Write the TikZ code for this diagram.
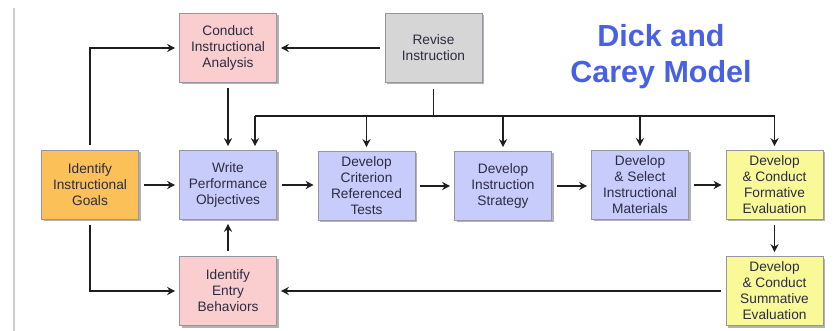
\documentclass[tikz,border=0pt]{standalone}
\usepackage{fontspec}
\setmainfont{Liberation Sans}
\usetikzlibrary{arrows.meta,shadows}

\definecolor{pinkfill}{RGB}{250,206,206}
\definecolor{greyfill}{RGB}{214,214,214}
\definecolor{orangefill}{RGB}{251,192,88}
\definecolor{bluefill}{RGB}{200,204,250}
\definecolor{yellowfill}{RGB}{250,249,152}
\definecolor{boxline}{RGB}{150,150,160}
\definecolor{boxtext}{RGB}{44,44,66}
\definecolor{linecol}{RGB}{30,30,30}
\definecolor{titleblue}{RGB}{72,96,226}
\definecolor{edgegrey}{RGB}{205,205,205}

\tikzset{
  box/.style={draw=boxline, line width=0.6pt, minimum width=97pt, minimum height=69pt,
    inner sep=2pt, align=center, text=boxtext,
    font=\fontsize{13.7}{16}\selectfont,
    drop shadow={shadow xshift=2pt, shadow yshift=-2pt, fill=black, opacity=0.3}},
  arr/.style={line width=1.4pt, draw=linecol,
    -{Stealth[length=8pt,width=8pt,inset=2.5pt]}, shorten >=4pt, shorten <=5pt},
  bus/.style={line width=1.4pt, draw=linecol},
}

\begin{document}
\begin{tikzpicture}[x=1pt,y=-1pt]
  \useasboundingbox (0,0) rectangle (835,331);

  % page edge on the left
  \draw[edgegrey, line width=1.6pt] (14,8) -- (14,331);

  % title
  \node[font=\bfseries\fontsize{30.5}{36}\selectfont, text=titleblue, align=center]
    (title) at (661,57) {Dick and\\Carey Model};

  % steps
  \node[box, fill=pinkfill]   (ana)  at (228,48)    {Conduct\\Instructional\\Analysis};
  \node[box, fill=greyfill]   (rev)  at (433.5,48)  {Revise\\Instruction};
  \node[box, fill=orangefill] (goal) at (90,185)    {Identify\\Instructional\\Goals};
  \node[box, fill=bluefill]   (wpo)  at (228,185)   {Write\\Performance\\Objectives};
  \node[box, fill=bluefill]   (crt)  at (366.5,186) {Develop\\Criterion\\Referenced\\Tests};
  \node[box, fill=bluefill]   (str)  at (503,186)   {Develop\\Instruction\\Strategy};
  \node[box, fill=bluefill]   (mat)  at (640,185)   {Develop\\\& Select\\Instructional\\Materials};
  \node[box, fill=yellowfill] (form) at (774.5,185) {Develop\\\& Conduct\\Formative\\Evaluation};
  \node[box, fill=pinkfill]   (ent)  at (228,291)   {Identify\\Entry\\Behaviors};
  \node[box, fill=yellowfill] (summ) at (774.5,291) {Develop\\\& Conduct\\Summative\\Evaluation};

  % main flow
  \draw[arr] (goal) -- (wpo);
  \draw[arr] (wpo) -- (wpo -| crt.west);
  \draw[arr] (crt) -- (str);
  \draw[arr] (str) -- (str -| mat.west);
  \draw[arr] (mat) -- (form);
  \draw[arr] (form) -- (summ);
  \draw[arr] (summ) -- (ent);
  \draw[arr] (ent) -- (wpo);
  \draw[arr] (ana) -- (wpo);
  \draw[arr] (goal) |- (ana);
  \draw[arr] (goal) |- (ent);
  \draw[arr] (rev) -- (ana);

  % revision feedback bus
  \coordinate (busL) at (255,116);
  \coordinate (busR) at (774.5,116);
  \draw[bus, shorten <=6pt] (rev.south) -- (rev.south |- busL);
  \draw[bus] (busL) -- (busR);
  \draw[arr, shorten <=0pt] (busL) -- (busL |- wpo.north);
  \draw[arr, shorten <=0pt] (crt.north |- busL) -- (crt);
  \draw[arr, shorten <=0pt] (str.north |- busL) -- (str);
  \draw[arr, shorten <=0pt] (mat.north |- busL) -- (mat);
  \draw[arr, shorten <=0pt] (busR) -- (form);
\end{tikzpicture}
\end{document}
